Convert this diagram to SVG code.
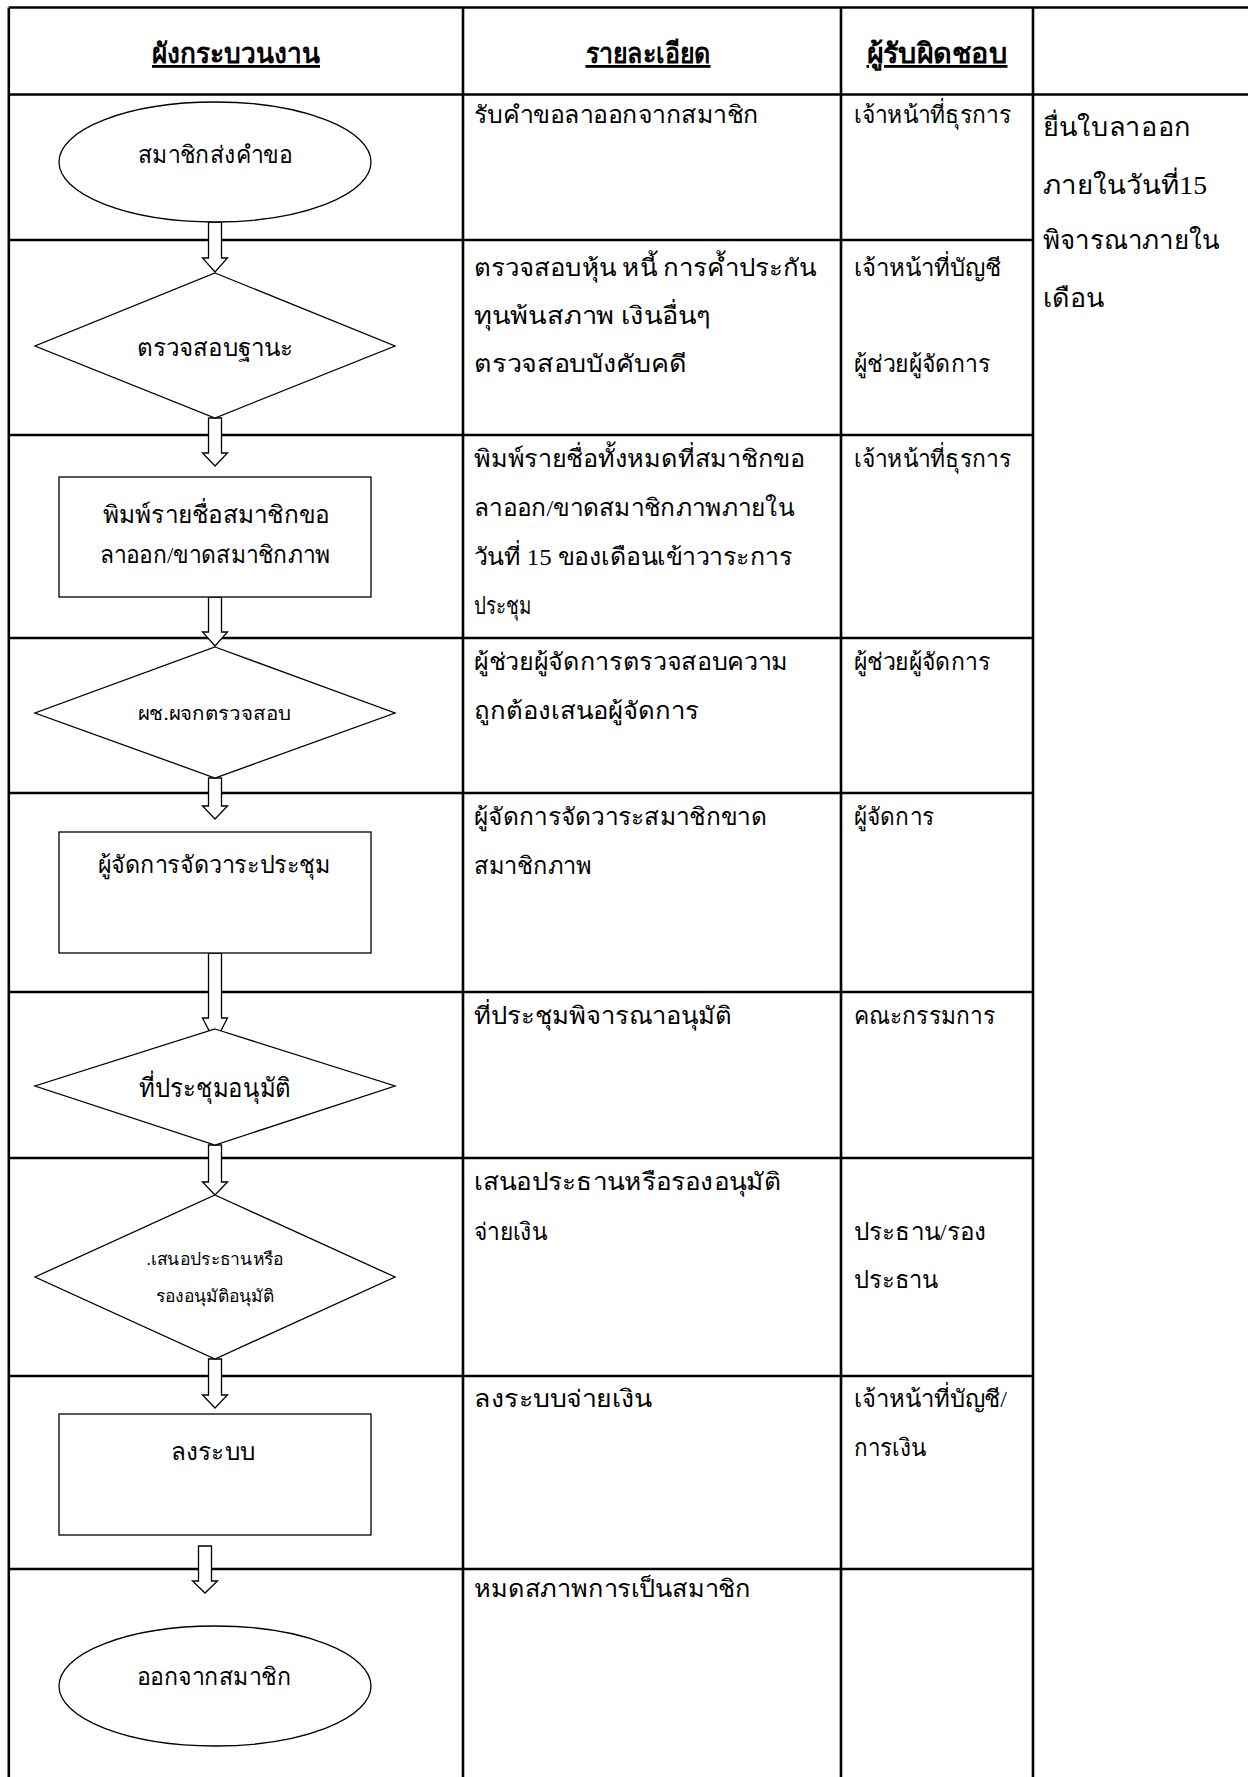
<svg xmlns="http://www.w3.org/2000/svg" width="1248" height="1777" viewBox="0 0 1248 1777">
  <style>
    .grid { stroke: #000; stroke-width: 2.6; fill: none; }
    .shape { stroke: #000; stroke-width: 1.3; fill: #fff; }
    .arrow { stroke: #000; stroke-width: 1.3; fill: #fff; stroke-linejoin: miter; }
    text { font-family: "Liberation Serif", "Noto Sans", serif; fill: #000; }
    .hd { font-size: 28px; font-weight: bold; text-decoration: underline; }
    .tx { font-size: 24px; }
    .big { font-size: 26px; }
    .sm { font-size: 19px; }
    .xs { font-size: 17px; }
    .fc { text-anchor: middle; }
  </style>

  <rect width="1248" height="1777" fill="#fff"/>

  <!-- table grid -->
  <g id="table" class="grid">
    <line x1="8.8" y1="7.5" x2="1248" y2="7.5"/>
    <line x1="8.8" y1="94.5" x2="1248" y2="94.5"/>
    <line x1="8.8" y1="7.5" x2="8.8" y2="1777"/>
    <line x1="463" y1="7.5" x2="463" y2="1777"/>
    <line x1="841" y1="7.5" x2="841" y2="1777"/>
    <line x1="1033" y1="7.5" x2="1033" y2="1777"/>
    <line x1="8.8" y1="240" x2="1033" y2="240"/>
    <line x1="8.8" y1="435" x2="1033" y2="435"/>
    <line x1="8.8" y1="638" x2="1033" y2="638"/>
    <line x1="8.8" y1="793" x2="1033" y2="793"/>
    <line x1="8.8" y1="992" x2="1033" y2="992"/>
    <line x1="8.8" y1="1158" x2="1033" y2="1158"/>
    <line x1="8.8" y1="1376" x2="1033" y2="1376"/>
    <line x1="8.8" y1="1569" x2="1033" y2="1569"/>
  </g>

  <!-- column headings -->
  <g id="headings">
    <text class="hd fc" x="236" y="63" textLength="168" lengthAdjust="spacingAndGlyphs">ผังกระบวนงาน</text>
    <text class="hd fc" x="648" y="63" textLength="125" lengthAdjust="spacingAndGlyphs">รายละเอียด</text>
    <text class="hd fc" x="937" y="63" textLength="141" lengthAdjust="spacingAndGlyphs">ผู้รับผิดชอบ</text>
  </g>

  <!-- connectors: hollow block arrows -->
  <g id="connectors" class="arrow">
    <path d="M208.5,222 H221.5 V258 H227.5 L215,272 L202.5,258 H208.5 Z"/>
    <path d="M208.5,418 H221.5 V453 H227.5 L215,466 L202.5,453 H208.5 Z"/>
    <path d="M208.5,597 H221.5 V632 H227.5 L215,646 L202.5,632 H208.5 Z"/>
    <path d="M208.5,778 H221.5 V806 H227.5 L215,819 L202.5,806 H208.5 Z"/>
    <path d="M208.5,953 H221.5 V1018 H227.5 L215,1042 L202.5,1018 H208.5 Z"/>
    <path d="M208.5,1145 H221.5 V1182 H227.5 L215,1195 L202.5,1182 H208.5 Z"/>
    <path d="M208.5,1359 H221.5 V1395 H227.5 L215,1408 L202.5,1395 H208.5 Z"/>
    <path d="M198.5,1546 H211.5 V1581 H217.5 L205,1593 L192.5,1581 H198.5 Z"/>
  </g>

  <!-- flowchart nodes -->
  <g id="n1-start">
    <ellipse class="shape" cx="215" cy="162" rx="156" ry="60"/>
    <text class="tx fc" x="215" y="163" textLength="154" lengthAdjust="spacingAndGlyphs">สมาชิกส่งคำขอ</text>
  </g>
  <g id="n2-check-status">
    <polygon class="shape" points="215,273 395,346 215,418 35,346"/>
    <text class="tx fc" x="215" y="356" textLength="156" lengthAdjust="spacingAndGlyphs">ตรวจสอบฐานะ</text>
  </g>
  <g id="n3-print-list">
    <rect class="shape" x="59" y="477" width="312" height="120"/>
    <text class="tx fc" x="216" y="523" textLength="227" lengthAdjust="spacingAndGlyphs">พิมพ์รายชื่อสมาชิกขอ</text>
    <text class="tx fc" x="215" y="563" textLength="231" lengthAdjust="spacingAndGlyphs">ลาออก/ขาดสมาชิกภาพ</text>
  </g>
  <g id="n4-asst-check">
    <polygon class="shape" points="215,647 395,713 215,778 35,713"/>
    <text class="sm fc" x="214" y="720" textLength="153" lengthAdjust="spacingAndGlyphs">ผช.ผจกตรวจสอบ</text>
  </g>
  <g id="n5-agenda">
    <rect class="shape" x="59" y="832" width="312" height="121"/>
    <text class="tx fc" x="214" y="873" textLength="233" lengthAdjust="spacingAndGlyphs">ผู้จัดการจัดวาระประชุม</text>
  </g>
  <g id="n6-meeting">
    <polygon class="shape" points="215,1029 395,1086 215,1145 35,1086"/>
    <text class="big fc" x="215" y="1097" textLength="152" lengthAdjust="spacingAndGlyphs">ที่ประชุมอนุมัติ</text>
  </g>
  <g id="n7-chair">
    <polygon class="shape" points="215,1195 395,1277 215,1359 35,1277"/>
    <text class="xs fc" x="215" y="1265" textLength="137" lengthAdjust="spacingAndGlyphs">.เสนอประธานหรือ</text>
    <text class="xs fc" x="215" y="1302" textLength="118" lengthAdjust="spacingAndGlyphs">รองอนุมัติอนุมัติ</text>
  </g>
  <g id="n8-record">
    <rect class="shape" x="59" y="1414" width="312" height="121"/>
    <text class="tx fc" x="213" y="1460" textLength="84" lengthAdjust="spacingAndGlyphs">ลงระบบ</text>
  </g>
  <g id="n9-end">
    <ellipse class="shape" cx="215" cy="1686" rx="156" ry="60"/>
    <text class="tx fc" x="214" y="1685" textLength="154" lengthAdjust="spacingAndGlyphs">ออกจากสมาชิก</text>
  </g>

  <!-- details column -->
  <g id="details" class="tx">
    <text x="474" y="123" textLength="285" lengthAdjust="spacingAndGlyphs">รับคำขอลาออกจากสมาชิก</text>
    <text x="474" y="276" textLength="342" lengthAdjust="spacingAndGlyphs">ตรวจสอบหุ้น หนี้ การค้ำประกัน</text>
    <text x="474" y="324" textLength="237" lengthAdjust="spacingAndGlyphs">ทุนพ้นสภาพ เงินอื่นๆ</text>
    <text x="474" y="372" textLength="213" lengthAdjust="spacingAndGlyphs">ตรวจสอบบังคับคดี</text>
    <text x="474" y="467" textLength="331" lengthAdjust="spacingAndGlyphs">พิมพ์รายชื่อทั้งหมดที่สมาชิกขอ</text>
    <text x="474" y="516" textLength="320" lengthAdjust="spacingAndGlyphs">ลาออก/ขาดสมาชิกภาพภายใน</text>
    <text x="474" y="565" textLength="318" lengthAdjust="spacingAndGlyphs">วันที่ 15 ของเดือนเข้าวาระการ</text>
    <text x="474" y="614" textLength="57" lengthAdjust="spacingAndGlyphs">ประชุม</text>
    <text x="474" y="670" textLength="314" lengthAdjust="spacingAndGlyphs">ผู้ช่วยผู้จัดการตรวจสอบความ</text>
    <text x="474" y="719" textLength="225" lengthAdjust="spacingAndGlyphs">ถูกต้องเสนอผู้จัดการ</text>
    <text x="474" y="825" textLength="293" lengthAdjust="spacingAndGlyphs">ผู้จัดการจัดวาระสมาชิกขาด</text>
    <text x="474" y="874" textLength="118" lengthAdjust="spacingAndGlyphs">สมาชิกภาพ</text>
    <text x="474" y="1024" textLength="258" lengthAdjust="spacingAndGlyphs">ที่ประชุมพิจารณาอนุมัติ</text>
    <text x="474" y="1190" textLength="307" lengthAdjust="spacingAndGlyphs">เสนอประธานหรือรองอนุมัติ</text>
    <text x="474" y="1240" textLength="73" lengthAdjust="spacingAndGlyphs">จ่ายเงิน</text>
    <text x="474" y="1407" textLength="178" lengthAdjust="spacingAndGlyphs">ลงระบบจ่ายเงิน</text>
    <text x="474" y="1597" textLength="277" lengthAdjust="spacingAndGlyphs">หมดสภาพการเป็นสมาชิก</text>
  </g>

  <!-- responsible column -->
  <g id="responsible" class="tx">
    <text x="854" y="123" textLength="157" lengthAdjust="spacingAndGlyphs">เจ้าหน้าที่ธุรการ</text>
    <text x="854" y="276" textLength="147" lengthAdjust="spacingAndGlyphs">เจ้าหน้าที่บัญชี</text>
    <text x="854" y="372" textLength="136" lengthAdjust="spacingAndGlyphs">ผู้ช่วยผู้จัดการ</text>
    <text x="854" y="467" textLength="157" lengthAdjust="spacingAndGlyphs">เจ้าหน้าที่ธุรการ</text>
    <text x="854" y="670" textLength="136" lengthAdjust="spacingAndGlyphs">ผู้ช่วยผู้จัดการ</text>
    <text x="854" y="825" textLength="80" lengthAdjust="spacingAndGlyphs">ผู้จัดการ</text>
    <text x="854" y="1024" textLength="141" lengthAdjust="spacingAndGlyphs">คณะกรรมการ</text>
    <text x="854" y="1240" textLength="132" lengthAdjust="spacingAndGlyphs">ประธาน/รอง</text>
    <text x="854" y="1288" textLength="84" lengthAdjust="spacingAndGlyphs">ประธาน</text>
    <text x="854" y="1407" textLength="153" lengthAdjust="spacingAndGlyphs">เจ้าหน้าที่บัญชี/</text>
    <text x="854" y="1456" textLength="72" lengthAdjust="spacingAndGlyphs">การเงิน</text>
  </g>

  <!-- side note column -->
  <g id="note" class="big">
    <text x="1043" y="136" textLength="148" lengthAdjust="spacingAndGlyphs">ยื่นใบลาออก</text>
    <text x="1043" y="194" textLength="164" lengthAdjust="spacingAndGlyphs">ภายในวันที่15</text>
    <text x="1043" y="249" textLength="177" lengthAdjust="spacingAndGlyphs">พิจารณาภายใน</text>
    <text x="1043" y="307" textLength="62" lengthAdjust="spacingAndGlyphs">เดือน</text>
  </g>
</svg>
